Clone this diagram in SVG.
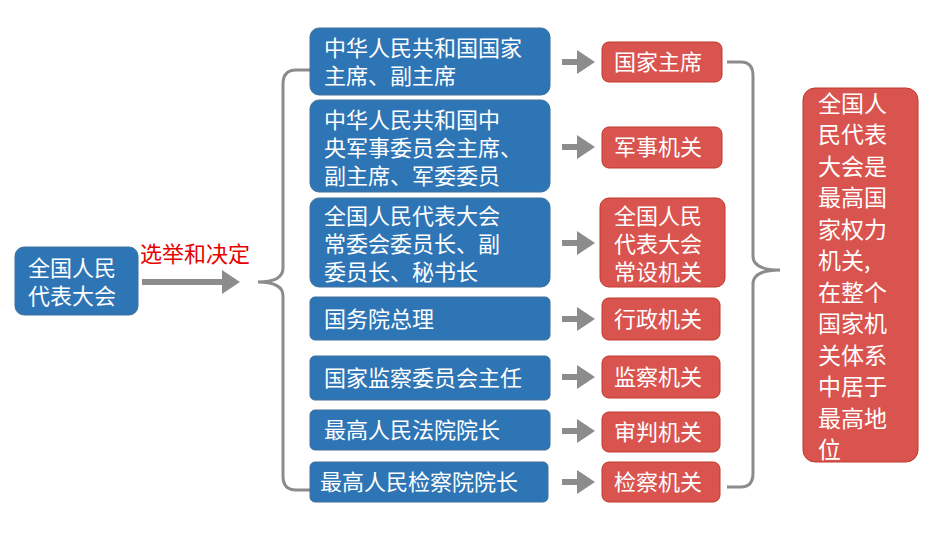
<svg xmlns="http://www.w3.org/2000/svg" width="950" height="535" viewBox="0 0 950 535">
<defs><style>
.b{fill:#2e75b6;stroke:#41719c;stroke-width:1}
.r{fill:#d9534f;stroke:#c0392b;stroke-width:1}
text{font-family:"Noto Sans CJK SC",sans-serif;fill:#fff;font-size:22px}
.g text{font-size:23px}
.l{stroke:#8c8c8c;stroke-width:3;fill:none}
.a{stroke:#8c8c8c;stroke-width:6;fill:none}
</style>
<marker id="m" markerWidth="3" markerHeight="4" refX="1" refY="2" orient="auto" markerUnits="strokeWidth"><path d="M0,0L3,2L0,4z" fill="#8c8c8c"/></marker>
</defs>
<rect width="950" height="535" fill="#fff"/>
<g id="src"><rect class="b" x="15" y="247" width="123" height="68" rx="9"/><text x="28" y="276">全国人民</text><text x="28" y="304">代表大会</text></g>
<g id="connectors">
<line class="a" x1="142" y1="282" x2="228" y2="282" marker-end="url(#m)"/>
<text x="140" y="262" style="fill:#e60000">选举和决定</text>
<path class="l" d="M310,70 H296 Q283,70 283,84 V268 Q283,282 258,282 Q283,282 283,296 V476 Q283,490 296,490 H310"/>
<path class="l" d="M727,62 H741 Q753,62 753,76 V256 Q753,270 780,270 Q753,270 753,284 V473 Q753,487 741,487 H727"/>
<g class="a">
<line x1="562" y1="62" x2="583" y2="62" marker-end="url(#m)"/>
<line x1="562" y1="147" x2="583" y2="147" marker-end="url(#m)"/>
<line x1="562" y1="243" x2="583" y2="243" marker-end="url(#m)"/>
<line x1="562" y1="319" x2="583" y2="319" marker-end="url(#m)"/>
<line x1="562" y1="377" x2="583" y2="377" marker-end="url(#m)"/>
<line x1="562" y1="431" x2="583" y2="431" marker-end="url(#m)"/>
<line x1="562" y1="482" x2="583" y2="482" marker-end="url(#m)"/>
</g></g>
<g id="b1"><rect class="b" x="310" y="28" width="240" height="67" rx="9"/><text x="324" y="56">中华人民共和国国家</text><text x="324" y="84">主席、副主席</text></g>
<g id="b2"><rect class="b" x="310" y="100" width="240" height="92" rx="9"/><text x="324" y="128">中华人民共和国中</text><text x="324" y="156">央军事委员会主席、</text><text x="324" y="184">副主席、军委委员</text></g>
<g id="b3"><rect class="b" x="310" y="198" width="240" height="89" rx="9"/><text x="324" y="224">全国人民代表大会</text><text x="324" y="252">常委会委员长、副</text><text x="324" y="280">委员长、秘书长</text></g>
<g id="b4"><rect class="b" x="310" y="297" width="240" height="43" rx="5"/><text x="324" y="327">国务院总理</text></g>
<g id="b5"><rect class="b" x="310" y="356" width="240" height="44" rx="5"/><text x="324" y="386">国家监察委员会主任</text></g>
<g id="b6"><rect class="b" x="310" y="410" width="240" height="40" rx="5"/><text x="324" y="438">最高人民法院院长</text></g>
<g id="b7"><rect class="b" x="310" y="462" width="238" height="40" rx="5"/><text x="320" y="490">最高人民检察院院长</text></g>
<g id="r1"><rect class="r" x="602" y="42" width="120" height="40" rx="7"/><text x="614" y="70">国家主席</text></g>
<g id="r2"><rect class="r" x="602" y="127" width="120" height="41" rx="7"/><text x="614" y="155">军事机关</text></g>
<g id="r3"><rect class="r" x="600" y="198" width="125" height="89" rx="9"/><text x="614" y="224">全国人民</text><text x="614" y="252">代表大会</text><text x="614" y="280">常设机关</text></g>
<g id="r4"><rect class="r" x="602" y="298" width="118" height="42" rx="7"/><text x="614" y="327">行政机关</text></g>
<g id="r5"><rect class="r" x="602" y="356" width="118" height="42" rx="7"/><text x="614" y="385">监察机关</text></g>
<g id="r6"><rect class="r" x="602" y="412" width="118" height="40" rx="7"/><text x="614" y="440">审判机关</text></g>
<g id="r7"><rect class="r" x="602" y="462" width="118" height="40" rx="7"/><text x="614" y="490">检察机关</text></g>
<g id="big"><rect class="r" x="803" y="88" width="115" height="374" rx="12"/>
<g class="g"><text x="818" y="112">全国人</text><text x="818" y="143">民代表</text><text x="818" y="175">大会是</text><text x="818" y="206">最高国</text><text x="818" y="238">家权力</text><text x="818" y="269">机关,</text><text x="818" y="301">在整个</text><text x="818" y="332">国家机</text><text x="818" y="364">关体系</text><text x="818" y="395">中居于</text><text x="818" y="427">最高地</text><text x="818" y="458">位</text></g></g>
</svg>
